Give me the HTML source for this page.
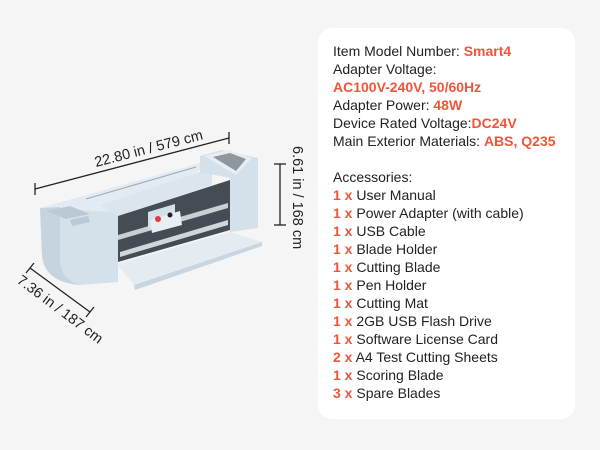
<!DOCTYPE html>
<html><head><style>
body{margin:0;width:600px;height:450px;background:#f5f5f5;position:relative;overflow:hidden;font-family:"Liberation Sans",sans-serif;}
.card{position:absolute;left:318px;top:28px;width:257px;height:391px;background:#fff;border-radius:14px;}
.t{position:absolute;left:333px;font-size:14px;color:#222;line-height:18px;white-space:nowrap;}
.r{color:#f0553a;font-weight:bold;}
svg{position:absolute;left:0;top:0;}
</style></head><body>
<div class="card"></div>
<div class="t" style="top:42px">Item Model Number: <span class="r">Smart4</span></div>
<div class="t" style="top:60px">Adapter Voltage:</div>
<div class="t" style="top:78px"><span class="r">AC100V-240V, 50/60Hz</span></div>
<div class="t" style="top:96px">Adapter Power: <span class="r">48W</span></div>
<div class="t" style="top:114px">Device Rated Voltage:<span class="r">DC24V</span></div>
<div class="t" style="top:132px">Main Exterior Materials: <span class="r">ABS, Q235</span></div>
<div class="t" style="top:168px">Accessories:</div>
<div class="t" style="top:186px"><span class="r">1 x</span> User Manual</div>
<div class="t" style="top:204px"><span class="r">1 x</span> Power Adapter (with cable)</div>
<div class="t" style="top:222px"><span class="r">1 x</span> USB Cable</div>
<div class="t" style="top:240px"><span class="r">1 x</span> Blade Holder</div>
<div class="t" style="top:258px"><span class="r">1 x</span> Cutting Blade</div>
<div class="t" style="top:276px"><span class="r">1 x</span> Pen Holder</div>
<div class="t" style="top:294px"><span class="r">1 x</span> Cutting Mat</div>
<div class="t" style="top:312px"><span class="r">1 x</span> 2GB USB Flash Drive</div>
<div class="t" style="top:330px"><span class="r">1 x</span> Software License Card</div>
<div class="t" style="top:348px"><span class="r">2 x</span> A4 Test Cutting Sheets</div>
<div class="t" style="top:366px"><span class="r">1 x</span> Scoring Blade</div>
<div class="t" style="top:384px"><span class="r">3 x</span> Spare Blades</div>
<svg width="600" height="450">
<g stroke="#222" stroke-width="1.3" fill="none">
<line x1="35" y1="189" x2="229" y2="138"/><line x1="35" y1="183" x2="35" y2="195"/><line x1="229" y1="132" x2="229" y2="144"/>
<line x1="280" y1="164" x2="280" y2="225"/><line x1="274" y1="164" x2="286" y2="164"/><line x1="274" y1="225" x2="286" y2="225"/>
<line x1="30" y1="268" x2="90" y2="312"/><line x1="26" y1="273" x2="34" y2="263"/><line x1="86" y1="317" x2="94" y2="307"/>
</g>
<g font-family="Liberation Sans" font-size="14.5" fill="#222">
<text transform="translate(96,167) rotate(-14.5)">22.80 in / 579 cm</text>
<text transform="translate(293,146) rotate(90)">6.61 in / 168 cm</text>
<text transform="translate(16,282) rotate(37)">7.36 in / 187 cm</text>
</g>
<!-- printer -->
<!-- top surface -->
<polygon points="40,208 200,163 212,164 118,212" fill="#e3ebf2"/>
<!-- left block -->
<path d="M40,208 L118,212 L118,282 L80,285 Q44,282 42,255 Z" fill="#d4e0ea"/>
<path d="M40,208 L60,207 L60,262 Q62,280 80,285 Q44,282 42,255 Z" fill="#c6d4e0"/>
<polygon points="46,211 70,206 90,214 66,219" fill="#b9c9d6"/>
<polygon points="70,220 88,216 90,222 72,226" fill="#b9c9d6"/>
<!-- back panel -->
<polygon points="100,205 200,172 212,172 212,185 118,216" fill="#dbe5ee"/>
<line x1="86" y1="199" x2="196" y2="167" stroke="#9aa8b4" stroke-width="1"/>
<!-- right tower -->
<polygon points="200,156 222,150 258,158 258,228 230,232 230,178 200,172" fill="#d4e0ea"/>
<polygon points="204,156 228,150 252,158 236,175" fill="#e6edf3"/>
<polygon points="213,157 230,153 246,159 236,171" fill="#8f979e"/>
<!-- opening -->
<polygon points="118,216 230,180 230,230 118,262" fill="#454c53"/>
<polygon points="118,235 228,203 228,208 118,240" fill="#c8cfd5"/>
<polygon points="120,252 228,220 228,225 120,257" fill="#d0d6db"/>
<polygon points="148,212 175,204 175,222 148,230" fill="#d4dfe8"/>
<polygon points="150,220 180,211 182,225 152,233" fill="#e8eef2"/>
<circle cx="158" cy="219" r="3" fill="#e03a3a"/>
<circle cx="170" cy="215" r="2.5" fill="#222"/>
<!-- tray -->
<polygon points="117,264 230,232 262,242 134,285" fill="#e4ecf2"/>
<polygon points="134,285 262,242 262,246 135,290" fill="#c9d5df"/>
</svg>
</body></html>
